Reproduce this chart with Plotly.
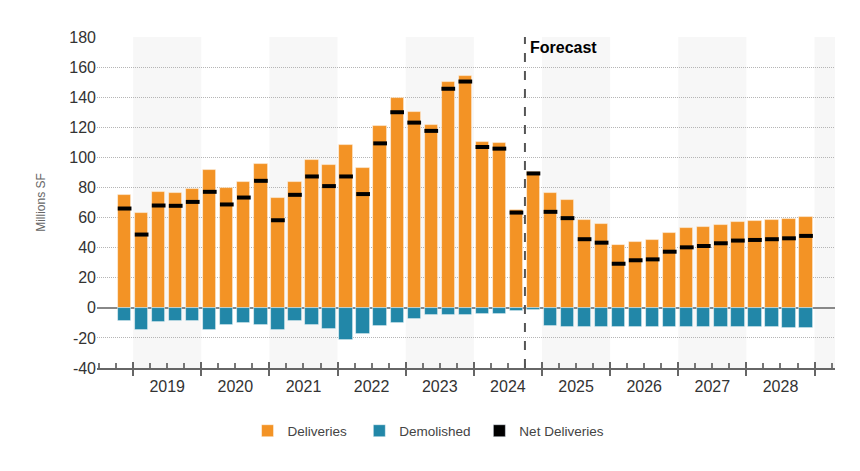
import plotly.graph_objects as go

# ---------------- data ----------------
years = [2018] + [y for y in range(2019, 2029) for _ in range(4)]
quarters = [4] + [q for _ in range(2019, 2029) for q in (1, 2, 3, 4)]

deliveries = [
    74.9,
    62.9, 77.3, 76.2, 78.9,
    91.6, 79.8, 83.3, 95.3,
    72.9, 83.3, 98.0, 94.7,
    108.4, 92.9, 121.1, 139.6,
    130.0, 121.8, 150.0, 154.4,
    110.4, 109.8, 65.1, 90.3,
    76.0, 71.8, 58.2, 55.8,
    42.0, 43.8, 44.9, 50.0,
    53.1, 53.8, 55.3, 57.3,
    57.8, 58.2, 58.9, 60.4,
]
demolished = [
    -8.9,
    -14.9, -9.6, -8.7, -8.7,
    -14.9, -11.3, -10.4, -11.1,
    -14.9, -8.7, -11.1, -14.2,
    -21.6, -17.6, -12.0, -10.0,
    -7.6, -4.7, -4.7, -4.7,
    -4.0, -4.2, -2.4, -1.6,
    -12.2, -12.7, -12.7, -12.7,
    -12.7, -12.7, -12.7, -12.7,
    -12.7, -12.7, -12.7, -12.7,
    -12.7, -12.7, -13.3, -13.3,
]
net_deliveries = [
    66.0,
    48.7, 68.0, 67.8, 70.4,
    77.1, 68.7, 73.3, 84.4,
    58.2, 75.1, 87.3, 80.9,
    87.3, 75.6, 109.3, 130.0,
    123.1, 117.6, 145.6, 150.4,
    106.9, 105.8, 63.3, 89.3,
    63.8, 59.6, 45.6, 43.3,
    29.3, 31.6, 32.2, 37.3,
    40.2, 41.1, 42.9, 44.7,
    45.1, 45.6, 46.2, 47.8,
]
year_labels = [str(y) for y in range(2019, 2029)]
y_tick_values = list(range(-40, 181, 20))
y_tick_labels = [str(v) for v in y_tick_values]
forecast_start = (2024, 4)
shaded_years = [2019, 2021, 2023, 2025, 2027, 2029]

# ---------------- derived positions ----------------
xpos = [y + (q - 0.5) / 4 for y, q in zip(years, quarters)]
label_pos = [int(y) + 0.5 for y in year_labels]
year_bounds = list(range(2019, 2030))
quarter_bounds = [2018.5 + 0.25 * i for i in range(44)]
fx = forecast_start[0] + (forecast_start[1] - 1) / 4
x_range = [2018.47, 2029.3]

ORANGE = "#F39325"
TEAL = "#2287A8"
FONT = "Liberation Sans, Arial, sans-serif"
NB = "\u00a0"

fig = go.Figure()
fig.add_trace(go.Bar(
    x=xpos, y=deliveries, name="Deliveries" + NB * 2, width=0.195,
    marker=dict(color=ORANGE, line=dict(color="rgba(255,255,255,0.6)", width=0.8)),
))
fig.add_trace(go.Bar(
    x=xpos, y=demolished, name="Demolished" + NB, width=0.195,
    marker=dict(color=TEAL, line=dict(color="rgba(255,255,255,0.6)", width=0.8)),
))
fig.add_trace(go.Scatter(
    x=xpos, y=net_deliveries, mode="markers", name="Net Deliveries",
    showlegend=False,
    marker=dict(symbol="line-ew", size=9.8, color="black",
                line=dict(color="black", width=4)),
))
# legend entry for Net Deliveries (square swatch)
fig.add_trace(go.Bar(
    x=[None], y=[None], name="Net Deliveries", marker=dict(color="black"),
    xaxis="x2",
))

shapes = []
for y0 in shaded_years:
    shapes.append(dict(type="rect", xref="x", yref="paper", x0=y0,
                       x1=min(y0 + 1, x_range[1]), y0=0, y1=1,
                       fillcolor="#F7F7F7", line=dict(width=0), layer="below"))
shapes.append(dict(type="line", xref="x", yref="paper", x0=fx, x1=fx, y0=0, y1=1,
                   line=dict(color="#555555", width=2, dash="dash"), layer="above"))

fig.update_layout(
    width=860, height=471,
    margin=dict(l=89, r=33, t=29, b=111),
    paper_bgcolor="white", plot_bgcolor="rgba(0,0,0,0)",
    barmode="relative",
    bargap=0,
    font=dict(family=FONT, color="#444444"),
    shapes=shapes,
    annotations=[dict(x=fx, y=1, xref="x", yref="paper", text="<b>Forecast</b>",
                      showarrow=False, xanchor="left", yanchor="middle",
                      xshift=3, yshift=-10, font=dict(size=16, color="black", family=FONT))],
    legend=dict(orientation="h", xref="container", yref="container",
                x=0.489, xanchor="center", y=0.102, yanchor="middle",
                font=dict(size=13.5, color="#444444"), itemclick=False),
    xaxis=dict(
        range=x_range, showgrid=False, zeroline=False, automargin=False,
        showline=True, linecolor="#666666", linewidth=2,
        tickmode="array", tickvals=label_pos, ticktext=year_labels,
        ticks="outside", ticklen=3, tickcolor="rgba(0,0,0,0)",
        tickfont=dict(size=16, color="#333333"),
        minor=dict(tickmode="array", tickvals=year_bounds, ticks="outside",
                   ticklen=6, tickwidth=2, tickcolor="#666666", showgrid=False),
    ),
    xaxis2=dict(
        range=x_range, overlaying="x", anchor="y", side="bottom", automargin=False,
        showgrid=False, zeroline=False, showline=False,
        tickmode="array", tickvals=year_bounds, showticklabels=False,
        ticks="inside", ticklen=6, tickwidth=2, tickcolor="#666666",
        minor=dict(tickmode="array", tickvals=quarter_bounds, ticks="inside",
                   ticklen=5, tickwidth=1.5, tickcolor="#777777", showgrid=False),
    ),
    yaxis=dict(
        range=[-40, 180], tickmode="array", tickvals=y_tick_values,
        ticktext=y_tick_labels, automargin=False,
        showgrid=True, gridcolor="#B5B5B5", griddash="1px,1px", gridwidth=1,
        zeroline=True, zerolinecolor="#888888", zerolinewidth=2,
        showline=False, ticks="",
        tickfont=dict(size=16, color="#333333"),
        title=dict(text="Millions SF", font=dict(size=12, color="#666666"), standoff=21),
    ),
)

fig.write_html("out.html")
